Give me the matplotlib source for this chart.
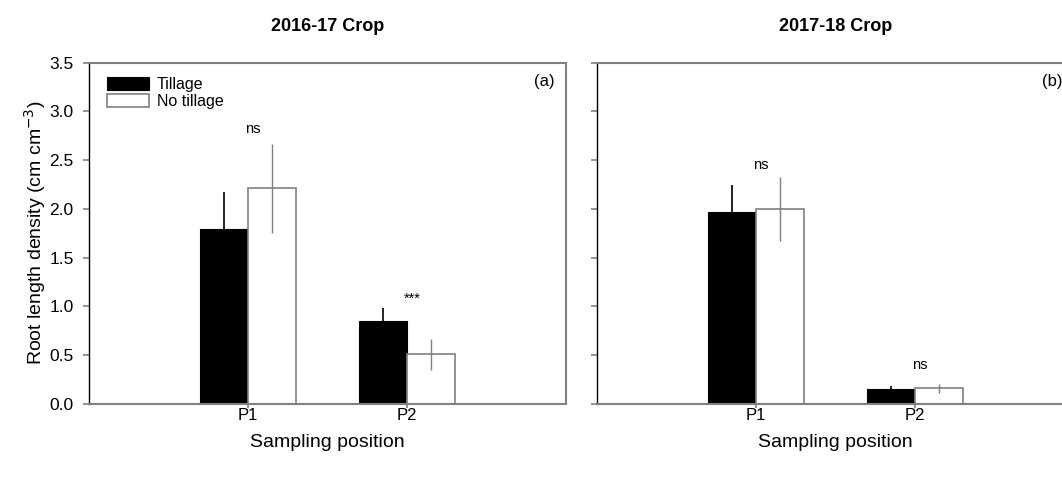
import numpy as np
import matplotlib.pyplot as plt

plt.rcParams['font.family'] = ['Liberation Sans', 'DejaVu Sans']

positions = ["P1", "P2"]
seasons = ["2016-17 Crop", "2017-18 Crop"]
panel_tags = ["(a)", "(b)"]

# root length density, cm cm-3
tillage = [[1.79, 0.85], [1.97, 0.155]]
tillage_se = [[0.38, 0.13], [0.27, 0.025]]
no_tillage = [[2.21, 0.51], [2.00, 0.16]]
no_tillage_se = [[0.46, 0.16], [0.33, 0.045]]

# significance marks and where they sit
signif = [["ns", "***"], ["ns", "ns"]]
signif_y = [[2.82, 1.08], [2.45, 0.40]]

gray = '#808080'
w = 0.3
x = np.arange(1, len(positions) + 1)

fig = plt.figure(figsize=(10.62, 4.78), dpi=100)
ax_a = fig.add_axes([0.0838, 0.1548, 0.4492, 0.7144])
ax_b = fig.add_axes([0.5621, 0.1548, 0.4492, 0.7144])

for k, ax in enumerate([ax_a, ax_b]):
    ax.bar(x - w/2, tillage[k], w, color='black', edgecolor='black', linewidth=0.8, label='Tillage', zorder=2)
    ax.bar(x + w/2, no_tillage[k], w, color='white', edgecolor=gray, linewidth=1.2, label='No tillage', zorder=2)
    ax.errorbar(x - w/2, tillage[k], yerr=tillage_se[k], fmt='none', ecolor='black', elinewidth=1.2, capsize=0, zorder=1)
    ax.errorbar(x + w/2, no_tillage[k], yerr=no_tillage_se[k], fmt='none', ecolor=gray, elinewidth=1.0, capsize=0, zorder=3)

    for i in range(len(positions)):
        ax.text(x[i] + 0.03, signif_y[k][i], signif[k][i], ha='center', va='center', fontsize=10.5)

    ax.set_xlim(0, 3)
    ax.set_ylim(0, 3.5)
    ax.set_xticks(x)
    ax.set_xticklabels(positions, fontsize=12)
    ax.set_yticks(np.arange(0, 3.51, 0.5))
    ax.tick_params(axis='both', direction='out', length=4, color=gray, width=1.2)
    ax.tick_params(axis='x', length=3, pad=0)
    ax.tick_params(axis='y', labelsize=12.5, pad=7)
    for s in ['top', 'right', 'bottom']:
        ax.spines[s].set_color(gray)
        ax.spines[s].set_linewidth(1.5)
    ax.spines['left'].set_color('black')
    ax.spines['left'].set_linewidth(1.0)
    ax.set_xlabel("Sampling position", fontsize=14, labelpad=8)
    ax.set_title(seasons[k], fontsize=13, fontweight='bold', pad=23)
    ax.text(0.955, 0.945, panel_tags[k], transform=ax.transAxes, ha='center', va='center', fontsize=12)

ax_b.set_yticklabels([])
ax_a.set_ylabel("Root length density (cm cm$^{-3}$)", fontsize=14, labelpad=1)
ax_a.legend(loc='upper left', bbox_to_anchor=(0.015, 0.99), frameon=False, fontsize=11.5,
            handlelength=2.6, handleheight=0.8, handletextpad=0.5, labelspacing=0.12, borderaxespad=0.3)

fig.savefig("out.png", dpi=100)
